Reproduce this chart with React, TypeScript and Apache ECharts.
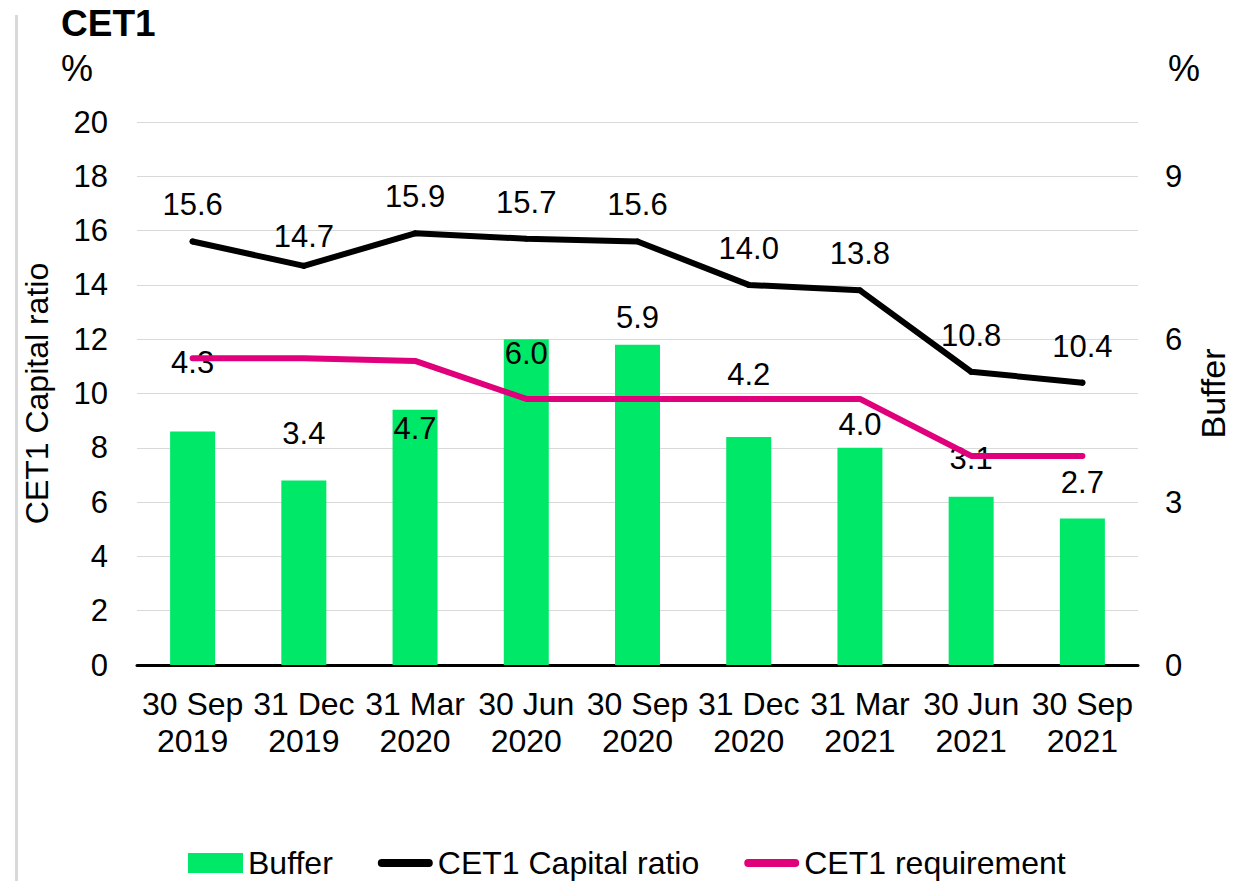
import React, { useEffect, useRef } from "react";
import * as echarts from "echarts";

// ---- data ----
const categories = [
  "30 Sep\n2019",
  "31 Dec\n2019",
  "31 Mar\n2020",
  "30 Jun\n2020",
  "30 Sep\n2020",
  "31 Dec\n2020",
  "31 Mar\n2021",
  "30 Jun\n2021",
  "30 Sep\n2021",
];
const bufferValues = [4.3, 3.4, 4.7, 6.0, 5.9, 4.2, 4.0, 3.1, 2.7];
const capitalRatioValues = [15.6, 14.7, 15.9, 15.7, 15.6, 14.0, 13.8, 10.8, 10.4];
const requirementValues = [11.3, 11.3, 11.2, 9.8, 9.8, 9.8, 9.8, 7.7, 7.7];
const leftAxisTicks = [0, 2, 4, 6, 8, 10, 12, 14, 16, 18, 20];
const rightAxisTicks = [0, 3, 6, 9];
const rightAxisMax = 10;

// ---- layout (label nudges, as placed in the original) ----
const bufferLabelShift = [-54, -31, 34, 30, -12, -47, -8, -23, -20];
const ratioLabelShift = [0, 7, 0, 0, 0, 0, 0, 0, 0];

const FONT = '"Liberation Sans", Arial, Helvetica, sans-serif';
const GREEN = "#00E868";
const PINK = "#E0007B";
const GRID = "#D9D9D9";
const LINE_ICON =
  "path://M4,0 L51,0 A4,4 0 0 1 51,8 L4,8 A4,4 0 0 1 4,0 Z";

export default function App() {
  const ref = useRef<HTMLDivElement>(null);

  useEffect(() => {
    if (!ref.current) return;
    const chart = echarts.init(ref.current, null, { renderer: "svg" });
    const fmt1 = (p: any) => Number(p.value).toFixed(1);

    const option: any = {
      animation: false,
      backgroundColor: "#ffffff",
      textStyle: { fontFamily: FONT, color: "#000" },
      title: {
        text: "CET1",
        left: 61,
        top: 5,
        padding: 0,
        textStyle: {
          fontSize: 37,
          fontWeight: "bold",
          color: "#000",
          fontFamily: FONT,
          lineHeight: 37,
        },
      },
      graphic: [
        {
          type: "rect",
          silent: true,
          shape: { x: 15, y: 15, width: 3, height: 866 },
          style: { fill: GRID },
        },
        {
          type: "text",
          x: 61,
          y: 68,
          style: {
            text: "%",
            fontSize: 36,
            fontFamily: FONT,
            fill: "#000",
            verticalAlign: "middle",
          },
        },
        {
          type: "text",
          x: 1168,
          y: 68,
          style: {
            text: "%",
            fontSize: 36,
            fontFamily: FONT,
            fill: "#000",
            verticalAlign: "middle",
          },
        },
      ],
      grid: {
        left: 137,
        right: 105,
        top: 122,
        bottom: 216,
        outerBoundsMode: "none",
      },
      legend: {
        left: 188,
        top: 847,
        padding: 0,
        itemGap: 45,
        itemWidth: 55,
        itemHeight: 20,
        selectedMode: false,
        textStyle: { fontSize: 32, color: "#000", fontFamily: FONT },
        data: [
          { name: "Buffer", icon: "rect" },
          { name: "CET1 Capital ratio", icon: LINE_ICON },
          { name: "CET1 requirement", icon: LINE_ICON },
        ],
      },
      xAxis: {
        type: "category",
        data: categories,
        axisLine: { lineStyle: { color: "#000", width: 3 } },
        axisTick: { show: false },
        axisLabel: {
          interval: 0,
          fontSize: 32,
          lineHeight: 37,
          margin: 20,
          color: "#000",
          fontFamily: FONT,
        },
      },
      yAxis: [
        {
          type: "value",
          min: leftAxisTicks[0],
          max: leftAxisTicks[leftAxisTicks.length - 1],
          interval: leftAxisTicks[1] - leftAxisTicks[0],
          name: "CET1 Capital ratio",
          nameLocation: "middle",
          nameRotate: 90,
          nameGap: 84,
          nameTextStyle: { fontSize: 32, color: "#000", fontFamily: FONT },
          axisLine: { show: false },
          axisTick: { show: false },
          axisLabel: { fontSize: 31, margin: 29, color: "#000", fontFamily: FONT },
          splitLine: { lineStyle: { color: GRID, width: 1 } },
        },
        {
          type: "value",
          min: rightAxisTicks[0],
          max: rightAxisMax,
          interval: rightAxisTicks[1] - rightAxisTicks[0],
          name: "Buffer",
          nameLocation: "middle",
          nameRotate: 90,
          nameGap: 58,
          nameTextStyle: { fontSize: 34, color: "#000", fontFamily: FONT },
          axisLine: { show: false },
          axisTick: { show: false },
          axisLabel: {
            fontSize: 31,
            margin: 27,
            color: "#000",
            fontFamily: FONT,
            formatter: (v: number) =>
              rightAxisTicks.indexOf(v) >= 0 ? String(v) : "",
          },
          splitLine: { show: false },
        },
      ],
      series: [
        {
          name: "Buffer",
          type: "bar",
          yAxisIndex: 1,
          barWidth: 45,
          itemStyle: { color: GREEN },
          z: 1,
          label: {
            show: true,
            position: "top",
            distance: 0,
            fontSize: 31,
            lineHeight: 31,
            color: "#000",
            fontFamily: FONT,
            formatter: fmt1,
          },
          data: bufferValues.map((v, i) => ({
            value: v,
            label: { offset: [0, bufferLabelShift[i]] },
          })),
        },
        {
          name: "CET1 Capital ratio",
          type: "line",
          yAxisIndex: 0,
          z: 3,
          symbol: "circle",
          symbolSize: 6,
          showSymbol: true,
          itemStyle: { color: "#000" },
          lineStyle: { color: "#000", width: 6, cap: "round", join: "round" },
          label: {
            show: true,
            position: "top",
            distance: 18,
            fontSize: 31,
            lineHeight: 31,
            color: "#000",
            fontFamily: FONT,
            formatter: fmt1,
          },
          data: capitalRatioValues.map((v, i) => ({
            value: v,
            label: { offset: [0, ratioLabelShift[i]] },
          })),
        },
        {
          name: "CET1 requirement",
          type: "line",
          yAxisIndex: 0,
          z: 2,
          symbol: "none",
          itemStyle: { color: PINK },
          lineStyle: { color: PINK, width: 6, cap: "round", join: "round" },
          data: requirementValues,
        },
      ],
    };

    chart.setOption(option);
    return () => chart.dispose();
  }, []);

  return (
    <div
      ref={ref}
      style={{
        position: "absolute",
        left: 0,
        top: 0,
        width: 1243,
        height: 881,
        background: "#fff",
      }}
    />
  );
}
